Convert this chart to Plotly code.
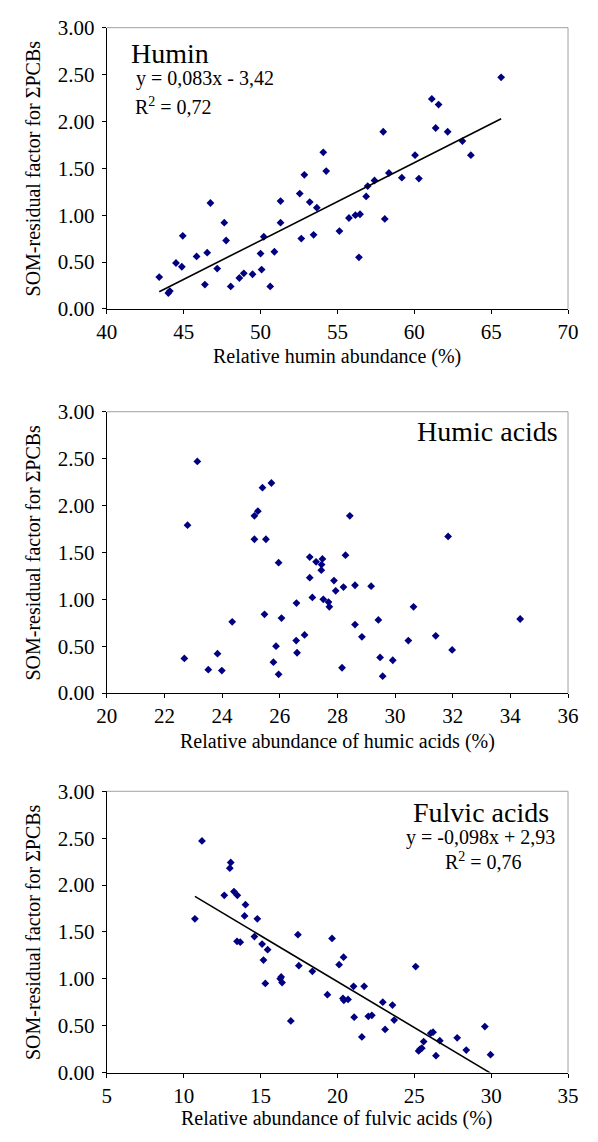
import plotly.graph_objects as go

# Humin panel
humin_x = [43.41, 44.00, 44.10, 44.50, 44.88, 44.94, 45.84, 46.38, 46.53, 46.74,
           47.18, 47.64, 47.76, 48.06, 48.62, 48.91, 49.48, 50.00, 50.07, 50.21,
           50.63, 50.90, 51.30, 51.30, 52.55, 52.65, 52.85, 53.20, 53.45, 53.66,
           54.08, 54.27, 55.13, 55.75, 56.17, 56.40, 56.47, 56.87, 56.97, 57.41,
           57.98, 58.08, 58.35, 59.19, 60.05, 60.30, 61.14, 61.39, 61.58, 62.17,
           63.13, 63.68, 65.65]
humin_y = [0.34, 0.17, 0.19, 0.49, 0.45, 0.78, 0.56, 0.26, 0.60, 1.13,
           0.43, 0.92, 0.73, 0.24, 0.33, 0.38, 0.37, 0.59, 0.42, 0.77,
           0.24, 0.61, 1.15, 0.92, 1.23, 0.75, 1.43, 1.14, 0.79, 1.08,
           1.67, 1.47, 0.83, 0.97, 1.00, 0.55, 1.01, 1.20, 1.31, 1.37,
           1.89, 0.96, 1.45, 1.40, 1.64, 1.39, 2.24, 1.93, 2.18, 1.89,
           1.79, 1.64, 2.47]

# Humic acids panel
humic_x = [22.69, 22.80, 23.14, 23.52, 23.84, 23.99, 24.35, 25.12, 25.24, 25.12,
           25.40, 25.52, 25.47, 25.71, 25.96, 25.78, 25.87, 25.96, 26.06, 26.58,
           26.57, 26.60, 26.86, 27.04, 27.04, 27.13, 27.26, 27.48, 27.45, 27.44,
           27.51, 27.69, 27.72, 27.88, 27.94, 28.21, 28.28, 28.16, 28.43, 28.61,
           28.61, 28.85, 29.17, 29.42, 29.48, 29.57, 29.92, 30.46, 30.64, 31.41,
           31.84, 31.98, 34.34]
humic_y = [0.37, 1.79, 2.47, 0.25, 0.42, 0.24, 0.76, 1.89, 1.94, 1.64,
           2.19, 1.64, 0.84, 2.24, 1.39, 0.33, 0.50, 0.20, 0.80, 0.96,
           0.56, 0.43, 0.62, 1.45, 1.23, 1.02, 1.40, 1.43, 1.37, 1.31,
           1.00, 0.97, 0.92, 1.20, 1.09, 1.13, 1.47, 0.27, 1.89, 1.15,
           0.73, 0.60, 1.14, 0.78, 0.38, 0.18, 0.35, 0.56, 0.92, 0.61,
           1.67, 0.46, 0.79]

# Fulvic acids panel
fulvic_x = [10.73, 11.19, 12.64, 13.00, 13.06, 13.27, 13.49, 13.47, 13.68, 14.02,
            13.96, 14.79, 14.60, 15.10, 15.46, 15.19, 15.31, 16.28, 16.34, 16.40,
            16.97, 17.43, 17.49, 18.37, 19.35, 19.65, 20.11, 20.40, 20.36, 20.42,
            20.69, 21.05, 21.09, 21.59, 21.74, 22.01, 22.24, 22.95, 23.10, 23.58,
            23.69, 25.09, 25.28, 25.38, 25.49, 25.61, 26.07, 26.22, 26.41, 26.66,
            27.79, 28.38, 29.59, 29.96]
fulvic_y = [1.64, 2.47, 1.89, 2.18, 2.24, 1.93, 1.89, 1.40, 1.39, 1.79,
            1.67, 1.64, 1.45, 1.37, 1.31, 1.20, 0.95, 1.00, 1.02, 0.96,
            0.55, 1.47, 1.14, 1.08, 0.83, 1.43, 1.15, 1.23, 0.79, 0.77,
            0.78, 0.92, 0.59, 0.38, 0.92, 0.60, 0.61, 0.75, 0.46, 0.72,
            0.56, 1.13, 0.23, 0.25, 0.26, 0.33, 0.42, 0.43, 0.18, 0.34,
            0.37, 0.24, 0.49, 0.19]

# Regression lines as printed on the panels
humin_fit = (0.083, -3.42)
fulvic_fit = (-0.098, 2.93)

W, H = 598, 1142
FONT = "Liberation Serif"
MARKER = dict(symbol="diamond", size=6, color="#000080")

fig = go.Figure()

panels = [
    dict(x=humin_x, y=humin_y, xr=[40, 70], dt=5, top=16, bot=303.3,
         title="Relative humin abundance (%)", ty=352, fit=humin_fit),
    dict(x=humic_x, y=humic_y, xr=[20, 36], dt=2, top=408.3, bot=695.7,
         title="Relative abundance of humic acids (%)", ty=745, fit=None),
    dict(x=fulvic_x, y=fulvic_y, xr=[5, 35], dt=5, top=796, bot=1083.3,
         title="Relative abundance of fulvic acids (%)", ty=1130, fit=fulvic_fit),
]

left, right = 99.3, 577.3
annotations = []
shapes = []

for i, p in enumerate(panels, start=1):
    xa = "x" if i == 1 else f"x{i}"
    ya = "y" if i == 1 else f"y{i}"
    fig.add_trace(go.Scatter(x=p["x"], y=p["y"], mode="markers", marker=MARKER,
                             xaxis=xa, yaxis=ya, showlegend=False))
    if p["fit"]:
        a, b = p["fit"]
        x0, x1 = min(p["x"]), max(p["x"])
        fig.add_trace(go.Scatter(x=[x0, x1], y=[a * x0 + b, a * x1 + b], mode="lines",
                                 line=dict(color="black", width=1.6),
                                 xaxis=xa, yaxis=ya, showlegend=False))
    axis_common = dict(showgrid=False, zeroline=False, showline=True, linecolor="black",
                       linewidth=1, ticks="outside", ticklen=4, tickcolor="black",
                       tickfont=dict(family=FONT, size=21, color="black"))
    fig.update_layout(**{
        ("xaxis" if i == 1 else f"xaxis{i}"): dict(
            domain=[left / W, right / W], range=p["xr"], dtick=p["dt"],
            anchor=ya, **axis_common),
        ("yaxis" if i == 1 else f"yaxis{i}"): dict(
            domain=[1 - p["bot"] / H, 1 - p["top"] / H], range=[0, 3], dtick=0.5,
            tickformat=".2f", anchor=xa, ticklabelstandoff=3, **axis_common),
    })
    # light grey frame on the top and right sides of the plot area
    xd, yd = f"{xa} domain", f"{ya} domain"
    shapes.append(dict(type="line", xref=xd, yref=yd, x0=0, x1=1, y0=1, y1=1,
                       line=dict(color="#a0a0a0", width=1)))
    shapes.append(dict(type="line", xref=xd, yref=yd, x0=1, x1=1, y0=0, y1=1,
                       line=dict(color="#a0a0a0", width=1)))
    # axis titles
    annotations.append(dict(text=p["title"], xref="paper", yref="paper",
                            x=(left + right) / 2 / W, y=1 - p["ty"] / H,
                            xanchor="center", yanchor="middle", showarrow=False,
                            font=dict(family=FONT, size=20, color="black")))
    annotations.append(dict(text="SOM-residual factor for ΣPCBs", xref="paper", yref="paper",
                            x=23 / W, y=1 - (p["top"] + p["bot"]) / 2 / H, textangle=-90,
                            xanchor="center", yanchor="middle", showarrow=False,
                            font=dict(family=FONT, size=20, color="black")))


def label(text, px, py, size, anchor):
    annotations.append(dict(text=text, xref="paper", yref="paper", x=px / W, y=1 - py / H,
                            xanchor=anchor, yanchor="middle", showarrow=False,
                            font=dict(family=FONT, size=size, color="black")))


label("Humin", 122, 42, 28, "left")
label("y = 0,083x - 3,42", 127, 68, 20, "left")
label("R<sup>2</sup> = 0,72", 126, 96, 20, "left")
label("Humic acids", 569, 428, 28, "right")
label("Fulvic acids", 487, 818, 28, "center")
label("y = -0,098x + 2,93", 487, 843, 20, "center")
label("R<sup>2</sup> = 0,76", 490, 867, 20, "center")

fig.update_layout(width=W, height=H, margin=dict(l=0, r=0, t=0, b=0),
                  paper_bgcolor="white", plot_bgcolor="white",
                  annotations=annotations, shapes=shapes,
                  font=dict(family=FONT, color="black"))

fig.write_html("out.html")
